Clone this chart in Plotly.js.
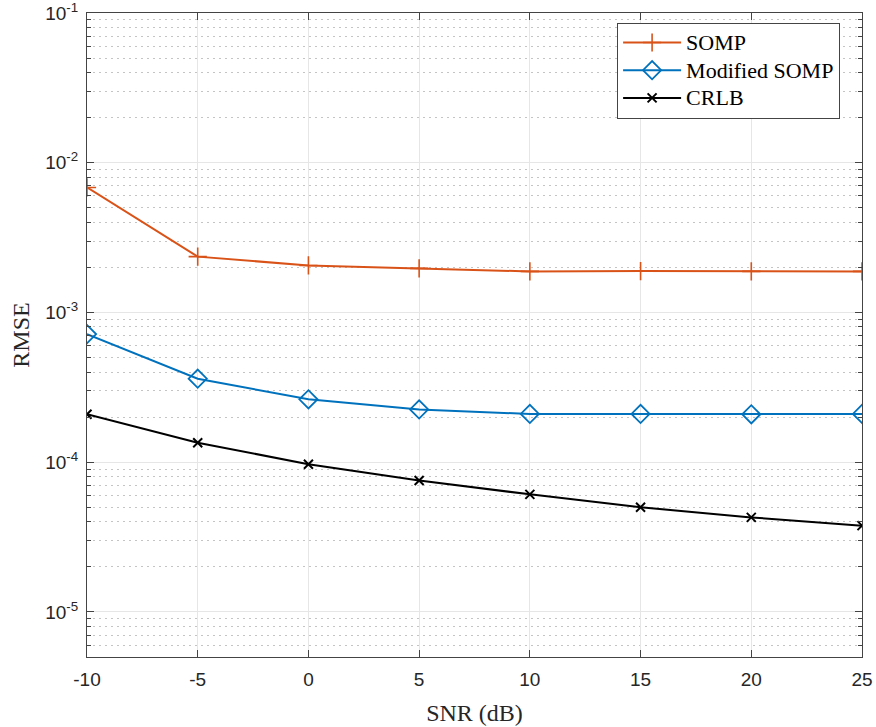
<!DOCTYPE html>
<html>
<head>
<meta charset="utf-8">
<script src="https://cdn.plot.ly/plotly-3.0.1.min.js"></script>
<style>html,body{margin:0;padding:0;background:#fff;}#chart{width:876px;height:727px;}</style>
</head>
<body>
<div id="chart"></div>
<script>
const seriesNames = ['SOMP', 'Modified SOMP', 'CRLB'];
const snr = [-10, -5, 0, 5, 10, 15, 20, 25];
const somp = [6.84e-3, 2.36e-3, 2.06e-3, 1.97e-3, 1.88e-3, 1.89e-3, 1.88e-3, 1.88e-3];
const modSomp = [7.17e-4, 3.61e-4, 2.63e-4, 2.25e-4, 2.10e-4, 2.10e-4, 2.09e-4, 2.10e-4];
const crlb = [2.09e-4, 1.35e-4, 9.7e-5, 7.54e-5, 6.1e-5, 5.0e-5, 4.28e-5, 3.77e-5];
const xTicks = [-10, -5, 0, 5, 10, 15, 20, 25];
const xTickText = ['-10', '-5', '0', '5', '10', '15', '20', '25'];
const yExps = [-5, -4, -3, -2, -1];

const yTickVals = yExps.map(e => Math.pow(10, e));
const yTickText = yExps.map(e => '10<sup>' + e + '</sup>');
const yMinor = [];
for (let e = -6; e <= -2; e++) {
  for (let m = 2; m <= 9; m++) {
    const v = m * Math.pow(10, e);
    if (v >= 5e-6 && v < 0.1) yMinor.push(v);
  }
}
const legName = s => '<span style="font-size:22px">' + s + '</span>';

const serif = 'Liberation Serif, Times New Roman, serif';
const sans = 'Liberation Sans, Arial, Helvetica, sans-serif';

const traces = [
  {x: snr, y: somp, name: legName(seriesNames[0]), mode: 'lines+markers', type: 'scatter',
   line: {color: '#D95319', width: 2},
   marker: {symbol: 'cross-thin', size: 13, color: '#D95319', line: {color: '#D95319', width: 1.6}}},
  {x: snr, y: modSomp, name: legName(seriesNames[1]), mode: 'lines+markers', type: 'scatter',
   line: {color: '#0072BD', width: 2},
   marker: {symbol: 'diamond-open', size: 14, color: '#0072BD', line: {color: '#0072BD', width: 1.8}}},
  {x: snr, y: crlb, name: legName(seriesNames[2]), mode: 'lines+markers', type: 'scatter',
   line: {color: '#000000', width: 2},
   marker: {symbol: 'x-thin', size: 9, color: '#000000', line: {color: '#000000', width: 2}}}
];

const layout = {
  width: 876, height: 727,
  margin: {l: 87, r: 14, t: 13, b: 70},
  paper_bgcolor: '#ffffff', plot_bgcolor: '#ffffff',
  showlegend: true,
  legend: {x: 0.684, y: 0.985, xanchor: 'left', yanchor: 'top',
    bgcolor: '#ffffff', bordercolor: '#444444', borderwidth: 1,
    itemwidth: 58,
    font: {family: serif, size: 19, color: '#000'}, tracegroupgap: 0},
  xaxis: {
    range: [-10, 25], tickvals: xTicks, ticktext: xTickText,
    showgrid: true, gridcolor: '#e6e6e6', gridwidth: 1,
    zeroline: false, showline: true, linecolor: '#444444', linewidth: 1, mirror: 'ticks',
    ticks: 'inside', ticklen: 7, tickcolor: '#444444', ticklabelstandoff: 5,
    ticklabeloverflow: 'allow',
    tickfont: {family: sans, size: 19, color: '#262626'},
    title: {text: 'SNR (dB)', font: {family: serif, size: 24, color: '#262626'}, standoff: 15}
  },
  yaxis: {
    type: 'log', range: [Math.log10(5e-6), -1],
    tickvals: yTickVals, ticktext: yTickText,
    showgrid: true, gridcolor: '#e6e6e6', gridwidth: 1,
    zeroline: false, showline: true, linecolor: '#444444', linewidth: 1, mirror: 'ticks',
    ticks: 'inside', ticklen: 7, tickcolor: '#444444', ticklabelstandoff: 4,
    ticklabeloverflow: 'allow',
    tickfont: {family: sans, size: 19, color: '#262626'},
    minor: {tickvals: yMinor, ticks: 'inside', ticklen: 4, tickcolor: '#444444',
      showgrid: true, gridcolor: '#c4c4c4', griddash: '1.5px,4.5px', gridwidth: 1},
    title: {text: 'RMSE', font: {family: serif, size: 24, color: '#262626'}, standoff: 8}
  }
};

Plotly.newPlot('chart', traces, layout, {displayModeBar: false, staticPlot: true});
</script>
</body>
</html>
